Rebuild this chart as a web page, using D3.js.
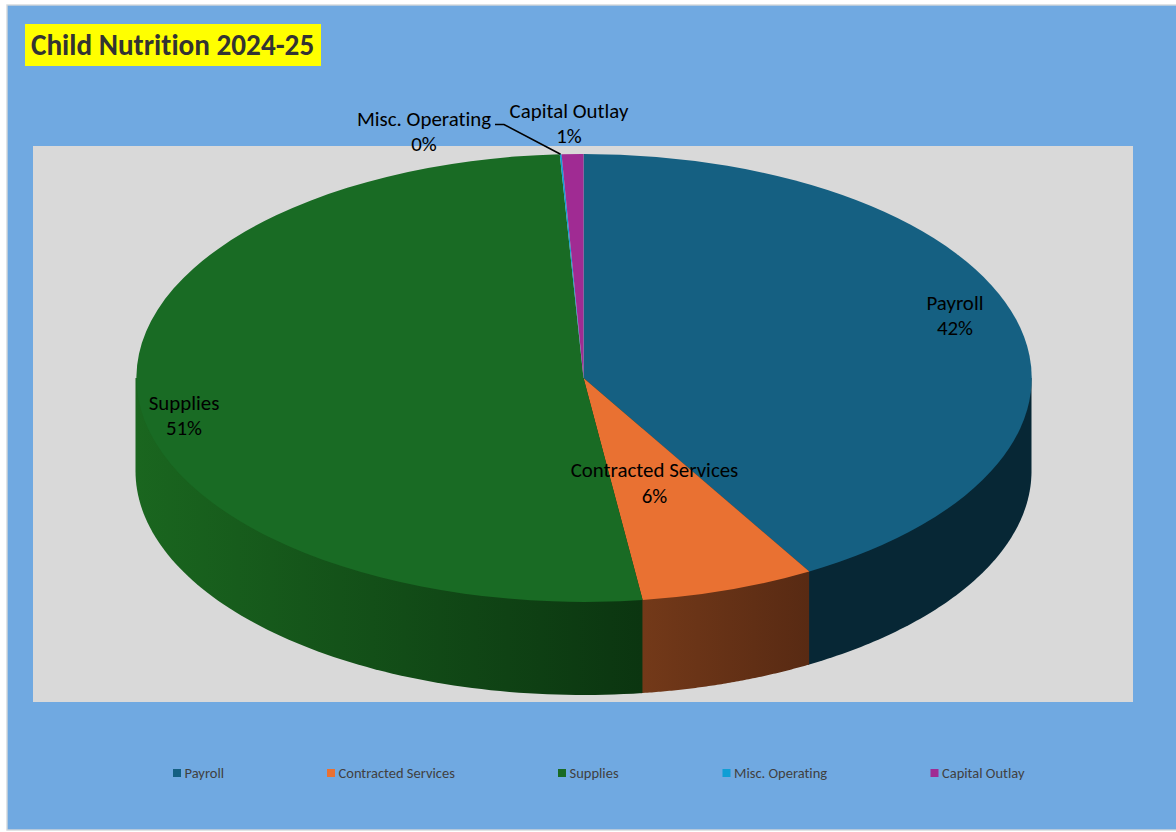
<!DOCTYPE html>
<html>
<head>
<meta charset="utf-8">
<script src="https://cdn.jsdelivr.net/npm/d3@7"></script>
<style>
html,body{margin:0;padding:0;background:#fff;overflow:hidden;}
svg{display:block;}
text{font-family:Carlito,"Open Sans","Noto Sans",sans-serif;font-variant-ligatures:none;}
</style>
</head>
<body>
<svg id="chart" width="1176" height="832"></svg>
<script>
const titleText = "Child Nutrition 2024-25";
const categories = ["Payroll","Contracted Services","Supplies","Misc. Operating","Capital Outlay"];
const shares = [41.6,6.3,51.25,0.07,0.78];
const shareLabels = ["42%","6%","51%","0%","1%"];
const topColors = ["#156082","#e97132","#196b24","#0f9ed5","#a02b93"];
const wallLeftTone = ["#072735","#733919","#1a661f","#0a5f80","#5f1a58"];
const wallRightTone = ["#072735","#582a13","#0b3510","#0a5f80","#5f1a58"];

const svg = d3.select("#chart");
const cx = 583.5, cy = 378, rx = 448, ry = 224, depth = 93;

// frame, chart background and plot area
svg.append("rect").attr("x",7).attr("y",5).attr("width",1175).attr("height",825)
  .attr("fill","#70a9e1").attr("stroke","#d3d7da").attr("stroke-width",1.4);
svg.append("rect").attr("x",33).attr("y",146).attr("width",1100).attr("height",556).attr("fill","#d9d9d9");

// pie layout, clockwise from twelve o'clock
const pie = d3.pie().value(d=>d).sort(null)(shares);
const px = a => cx + rx*Math.sin(a);
const py = a => cy - ry*Math.cos(a);

// outer wall: one path per visible slice with a left-to-right shade
const defs = svg.append("defs");
const wall = svg.append("g");
pie.forEach((s,i)=>{
  const a0 = Math.max(s.startAngle, Math.PI/2), a1 = Math.min(s.endAngle, 3*Math.PI/2);
  if (a1 <= a0) return;
  const grad = defs.append("linearGradient").attr("id","wall"+i)
    .attr("gradientUnits","userSpaceOnUse")
    .attr("x1",Math.min(px(a0),px(a1))).attr("x2",Math.max(px(a0),px(a1))).attr("y1",0).attr("y2",0);
  grad.append("stop").attr("offset",0).attr("stop-color",wallLeftTone[i]);
  grad.append("stop").attr("offset",1).attr("stop-color",wallRightTone[i]);
  // each piece runs a little under the next one so no seam opens between them
  const aEnd = a1 < 3*Math.PI/2 ? a1 + 0.004 : a1;
  const steps = d3.range(0,1.0001,1/80).map(t=>a0+(aEnd-a0)*t);
  // the upper edge stays hidden behind the top face
  const area = d3.area().x(px).y0(cy).y1(a=>py(a)+depth);
  wall.append("path").attr("d",area(steps)).attr("fill",`url(#wall${i})`);
});

// top face: a flat arc squashed vertically into an ellipse
const arc = d3.arc().innerRadius(0).outerRadius(1);
svg.append("g").attr("transform",`translate(${cx},${cy}) scale(${rx},${ry})`)
  .selectAll("path").data(pie).join("path")
  .attr("d",arc).attr("fill",(d,i)=>topColors[i]);

// title block
svg.append("rect").attr("x",25).attr("y",24).attr("width",296).attr("height",42).attr("fill","#ffff00");
svg.append("text").attr("x",31).attr("y",55).attr("font-size",29.2).attr("font-weight",700)
  .attr("fill","#333333").text(titleText);

// data labels
const labelPos = [[955,310,335],[654.5,477,503],[184,410,435],[424,126,151],[569,118,143]];
const labels = svg.append("g").attr("fill","#000").attr("font-size",20.9).attr("text-anchor","middle");
categories.forEach((c,i)=>{
  labels.append("text").attr("x",labelPos[i][0]).attr("y",labelPos[i][1]).text(c);
  labels.append("text").attr("x",labelPos[i][0]).attr("y",labelPos[i][2]).text(shareLabels[i]);
});
const miscMid = (pie[3].startAngle+pie[3].endAngle)/2;
svg.append("path")
  .attr("d",d3.line()([[495,124.5],[504,124.5],[px(miscMid),py(miscMid)]]))
  .attr("fill","none").attr("stroke","#000").attr("stroke-width",1.6);

// legend
const legendX = [173,327,558,722.5,930.5];
const legend = svg.append("g");
categories.forEach((c,i)=>{
  legend.append("rect").attr("x",legendX[i]).attr("y",769).attr("width",8).attr("height",8).attr("fill",topColors[i]);
  legend.append("text").attr("x",legendX[i]+11.5).attr("y",778).attr("font-size",14.5).attr("fill","#404040").text(c);
});
</script>
</body>
</html>
